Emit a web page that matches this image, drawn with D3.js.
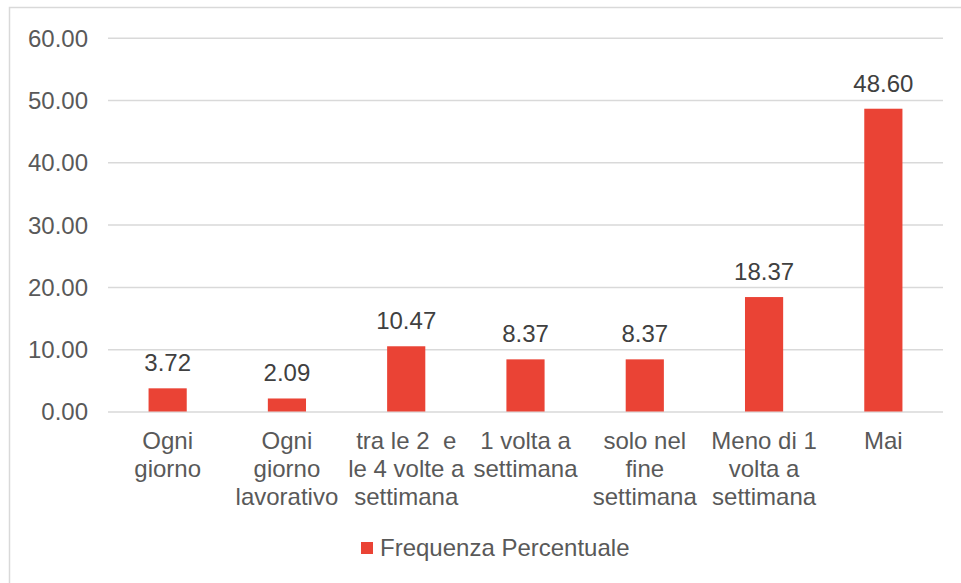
<!DOCTYPE html>
<html>
<head>
<meta charset="utf-8">
<script src="https://cdn.jsdelivr.net/npm/d3@7"></script>
<style>
  body { margin: 0; background: #fff; }
  text { font-family: "Liberation Sans", Arial, sans-serif; }
</style>
</head>
<body>
<script>
// dati del grafico
const categories = [
  ["Ogni", "giorno"],
  ["Ogni", "giorno", "lavorativo"],
  ["tra le 2  e", "le 4 volte a", "settimana"],
  ["1 volta a", "settimana"],
  ["solo nel", "fine", "settimana"],
  ["Meno di 1", "volta a", "settimana"],
  ["Mai"]
];
const values = [3.72, 2.09, 10.47, 8.37, 8.37, 18.37, 48.60];
const yTicks = [0, 10, 20, 30, 40, 50, 60];
const seriesName = "Frequenza Percentuale";

const width = 961, height = 583;
const plotLeft = 108, plotRight = 943, plotTop = 37.7, plotBottom = 411.5;
const red = "#EA4335";
const fontSize = "24px";

const svg = d3.select("body").append("svg")
  .attr("width", width)
  .attr("height", height);

// bordo esterno
svg.append("rect")
  .attr("x", 9.5).attr("y", 7.5)
  .attr("width", 1000).attr("height", 1000)
  .attr("fill", "none").attr("stroke", "#d9d9d9").attr("stroke-width", 1.5);

const x = d3.scaleBand()
  .domain(d3.range(values.length))
  .range([plotLeft, plotRight])
  .paddingInner(0.68)
  .paddingOuter(0.34);

const y = d3.scaleLinear().domain([0, 60]).range([plotBottom, plotTop]);

// griglia + etichette asse y
const yAxis = svg.append("g")
  .attr("transform", `translate(${plotLeft},0)`)
  .call(d3.axisLeft(y).tickValues(yTicks).tickSize(-(plotRight - plotLeft)).tickFormat(d3.format(".2f")).tickPadding(20));
yAxis.select(".domain").remove();
yAxis.selectAll("line").attr("stroke", "#d9d9d9").attr("stroke-width", 1.5);
yAxis.selectAll("text")
  .attr("fill", "#595959")
  .style("font-size", fontSize)
  .attr("dy", "0.35em");

// barre
svg.append("g").selectAll("rect")
  .data(values)
  .join("rect")
  .attr("x", (d, i) => x(i))
  .attr("y", d => y(d))
  .attr("width", x.bandwidth())
  .attr("height", d => y(0) - y(d))
  .attr("fill", red);

// etichette valori
svg.append("g").selectAll("text")
  .data(values)
  .join("text")
  .attr("x", (d, i) => x(i) + x.bandwidth() / 2)
  .attr("y", d => y(d) - 17)
  .attr("text-anchor", "middle")
  .attr("fill", "#404040")
  .style("font-size", fontSize)
  .text(d => d.toFixed(2));

// etichette categorie
const cat = svg.append("g").selectAll("text")
  .data(categories)
  .join("text")
  .attr("x", (d, i) => x(i) + x.bandwidth() / 2)
  .attr("y", 449)
  .attr("text-anchor", "middle")
  .attr("fill", "#595959")
  .style("font-size", fontSize);
cat.selectAll("tspan")
  .data(d => d)
  .join("tspan")
  .attr("x", function() { return d3.select(this.parentNode).attr("x"); })
  .attr("dy", (d, i) => i === 0 ? 0 : 28)
  .style("white-space", "pre")
  .text(d => d);

// legenda
const leg = svg.append("g");
leg.append("rect")
  .attr("x", 361).attr("y", 542)
  .attr("width", 12).attr("height", 12)
  .attr("fill", red);
leg.append("text")
  .attr("x", 380).attr("y", 556)
  .attr("fill", "#595959")
  .style("font-size", fontSize)
  .text(seriesName);
</script>
</body>
</html>
